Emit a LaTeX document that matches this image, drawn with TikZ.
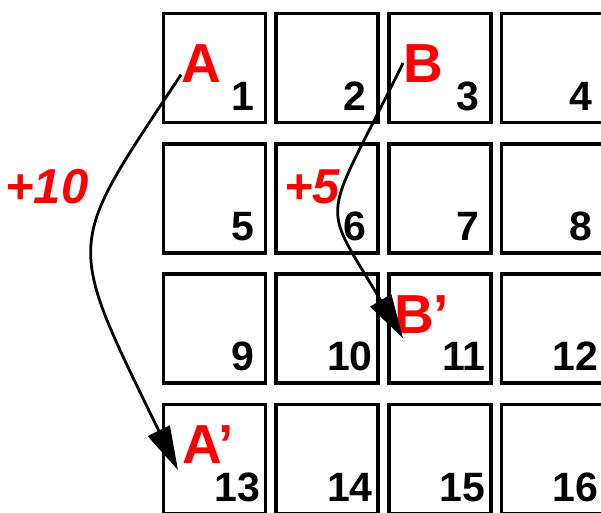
\documentclass[tikz,border=0pt]{standalone}
\usepackage{fontspec}
\setmainfont{Liberation Sans}
\usetikzlibrary{arrows.meta,positioning}
\definecolor{mark}{HTML}{FF0000}

\begin{document}
\begin{tikzpicture}[x=1pt,y=-1pt,
 cell/.style={draw,line width=3.5pt,minimum width=102pt,minimum height=109pt,inner sep=0pt},
 num/.style={font=\fontsize{41}{41}\selectfont\bfseries,inner sep=0pt,anchor=base east},
 tag/.style={font=\fontsize{55}{55}\selectfont\bfseries,text=mark,inner sep=0pt,anchor=base west},
 gain/.style={font=\fontsize{49}{49}\selectfont\bfseries\itshape,text=mark,inner sep=0pt,anchor=base west},
 move/.style={-{Triangle[length=44pt,width=24pt]},line width=2.8pt}]
 \useasboundingbox (0,0) rectangle (601,512);
 % 4x4 board, numbered row by row
 \foreach \r in {0,...,3}
  \foreach \c in {0,...,3}{
   \pgfmathtruncatemacro\k{4*\r+\c+1}
   \pgfmathsetmacro\dx{\k<10 ? 13 : 7}
   \node[cell] (c\k) at (214.5+112.7*\c,68+130.3*\r) {};
   \node[num] (n\k) at ([shift={(-\dx,-14)}]c\k.south east) {\k};
  }
 \node[tag] (A) at (181,82) {A};
 \node[tag] (B) at (403,82) {B};
 \node[tag] (A2) at (182,463) {A’};
 \node[tag] (B2) at (394,333) {B’};
 \node[gain] (p10) at (5,203) {+10};
 \node[gain] (p5) at (284,203) {+5};
 \draw[move] (A.210) .. controls (65,250) and (64,236) .. ([shift={(-4,7)}]A2.south west);
 \draw[move] (B.west) .. controls (321,230) and (319,196) .. ([shift={(9,5)}]B2.south west);
\end{tikzpicture}
\end{document}
